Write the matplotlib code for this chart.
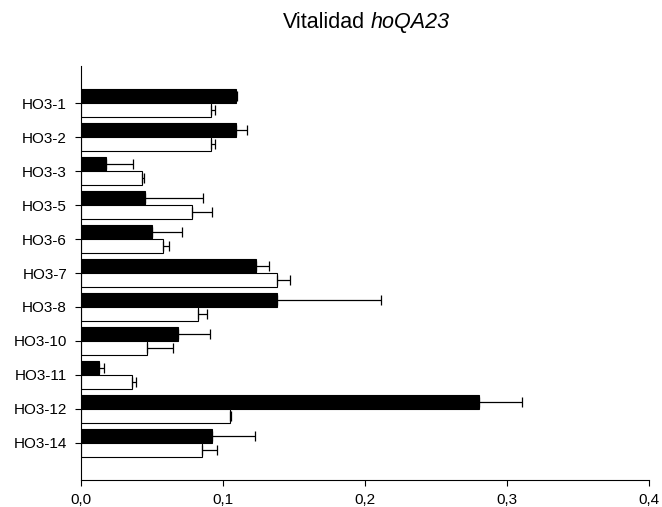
import matplotlib
matplotlib.use("Agg")
import matplotlib.pyplot as plt
import matplotlib.ticker as ticker
import numpy as np

plt.rcParams["font.family"] = ["Liberation Sans", "DejaVu Sans"]

labels = ["HO3-1", "HO3-2", "HO3-3", "HO3-5", "HO3-6", "HO3-7",
          "HO3-8", "HO3-10", "HO3-11", "HO3-12", "HO3-14"]
black_vals = [0.109, 0.109, 0.0176, 0.0451, 0.050, 0.123,
              0.138, 0.0685, 0.0127, 0.280, 0.0925]
black_err = [0.0012, 0.0077, 0.0193, 0.0408, 0.0211, 0.0092,
             0.073, 0.0221, 0.0037, 0.0306, 0.0303]
white_vals = [0.0913, 0.0913, 0.0432, 0.0784, 0.0575, 0.1383,
              0.0826, 0.0462, 0.0357, 0.105, 0.0855]
white_err = [0.0031, 0.0028, 0.0012, 0.0141, 0.0045, 0.0087,
             0.0059, 0.0188, 0.0028, 0.0009, 0.0105]
xticks = [0.0, 0.1, 0.2, 0.3, 0.4]

fig = plt.figure(figsize=(6.62, 5.07), dpi=100)
ax = fig.add_axes([81 / 662, 1 - 480 / 507, 568 / 662, 414 / 507])

y = np.arange(len(labels))
h = 0.4
err_kw = dict(ecolor="black", elinewidth=0.9, capsize=3.3, capthick=0.9)

ax.barh(y - h / 2, black_vals, height=h, color="black", edgecolor="black",
        linewidth=0.8, xerr=[np.zeros(len(labels)), black_err], error_kw=err_kw)
ax.barh(y + h / 2, white_vals, height=h, color="white", edgecolor="black",
        linewidth=0.8, xerr=[np.zeros(len(labels)), white_err], error_kw=err_kw)

ax.set_yticks(y)
ax.set_yticklabels(labels, fontsize=11)
ax.set_ylim(len(labels) - 1 + 1.09, -1.09)
ax.set_xlim(0, 0.4)
ax.set_xticks(xticks)
ax.xaxis.set_major_formatter(ticker.FuncFormatter(lambda v, p: f"{v:.1f}".replace(".", ",")))
ax.tick_params(axis="x", labelsize=11, length=4, width=0.8, direction="out", pad=5)
ax.tick_params(axis="y", length=4, width=0.8, direction="out", pad=6)

for s in ("top", "right"):
    ax.spines[s].set_visible(False)
for s in ("left", "bottom"):
    ax.spines[s].set_linewidth(0.8)

# title: plain part + italic part
fig.text(365 / 662, 1 - 28 / 507, "Vitalidad", ha="right",
         va="baseline", fontsize=15.5)
fig.text(371 / 662, 1 - 28 / 507, "hoQA23", ha="left", style="italic",
         va="baseline", fontsize=15.5)

fig.savefig("out.png", dpi=100)
